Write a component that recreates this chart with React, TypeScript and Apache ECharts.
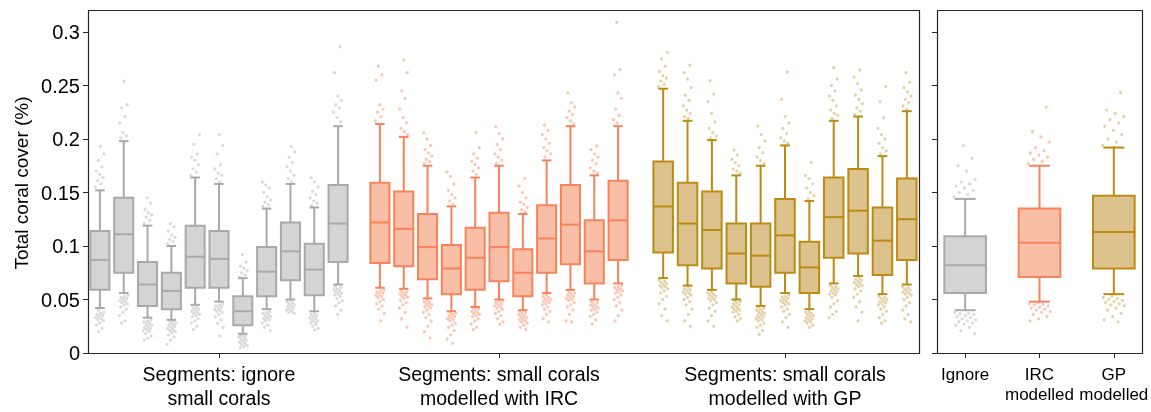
import React, { useEffect, useRef } from 'react';
import * as echarts from 'echarts';

// ---------- data ----------
const segmentIds = ['1', '2', '3', '4', '5', '6', '7', '8', '9', '10', '11'];
const groupLabels = [
  'Segments: ignore\nsmall corals',
  'Segments: small corals\nmodelled with IRC',
  'Segments: small corals\nmodelled with GP',
];
const overallLabels = ['Ignore', 'IRC\nmodelled', 'GP\nmodelled'];
const yTitle = 'Total coral cover (%)';

// [lower whisker, Q1, median, Q3, upper whisker]
const ignoreStats = [
  [0.042, 0.059, 0.087, 0.114, 0.152],
  [0.056, 0.075, 0.111, 0.145, 0.198],
  [0.033, 0.044, 0.064, 0.085, 0.119],
  [0.031, 0.041, 0.058, 0.075, 0.100],
  [0.045, 0.061, 0.090, 0.119, 0.164],
  [0.048, 0.061, 0.088, 0.114, 0.158],
  [0.018, 0.026, 0.039, 0.053, 0.070],
  [0.041, 0.053, 0.076, 0.099, 0.135],
  [0.050, 0.068, 0.095, 0.122, 0.158],
  [0.039, 0.054, 0.078, 0.102, 0.136],
  [0.064, 0.085, 0.121, 0.157, 0.212],
];
const ignoreHigh = [
  [0.155, 0.158, 0.161, 0.164, 0.167, 0.170, 0.174, 0.180, 0.186, 0.193],
  [0.201, 0.203, 0.206, 0.215, 0.221, 0.229, 0.232, 0.254],
  [0.121, 0.124, 0.127, 0.129, 0.131, 0.134, 0.140, 0.145],
  [0.102, 0.104, 0.106, 0.108, 0.110, 0.114, 0.118, 0.121],
  [0.166, 0.169, 0.172, 0.176, 0.180, 0.183, 0.186, 0.195, 0.204],
  [0.160, 0.163, 0.166, 0.168, 0.172, 0.176, 0.186, 0.194, 0.204],
  [0.071, 0.073, 0.075, 0.077, 0.079, 0.081, 0.085, 0.092],
  [0.137, 0.139, 0.141, 0.143, 0.146, 0.150, 0.154, 0.157, 0.160],
  [0.160, 0.163, 0.166, 0.170, 0.174, 0.178, 0.183, 0.188, 0.193],
  [0.138, 0.140, 0.142, 0.145, 0.148, 0.151, 0.155, 0.160, 0.164],
  [0.216, 0.220, 0.225, 0.229, 0.232, 0.236, 0.240, 0.262, 0.286],
];
const ignoreLow = [
  [0.040, 0.038, 0.037, 0.036, 0.035, 0.034, 0.033, 0.032, 0.031, 0.030, 0.028, 0.026, 0.023, 0.020],
  [0.054, 0.053, 0.052, 0.051, 0.050, 0.049, 0.048, 0.047, 0.046, 0.045, 0.043, 0.041, 0.038, 0.035, 0.030, 0.028],
  [0.031, 0.030, 0.029, 0.028, 0.027, 0.026, 0.025, 0.024, 0.023, 0.022, 0.021, 0.020, 0.018, 0.016, 0.014, 0.012],
  [0.030, 0.029, 0.028, 0.027, 0.026, 0.025, 0.024, 0.023, 0.022, 0.021, 0.020, 0.019, 0.017, 0.015, 0.012, 0.008],
  [0.043, 0.042, 0.041, 0.040, 0.039, 0.038, 0.037, 0.036, 0.035, 0.034, 0.032, 0.030, 0.028, 0.025, 0.022],
  [0.046, 0.045, 0.044, 0.043, 0.042, 0.041, 0.040, 0.039, 0.038, 0.036, 0.034, 0.031, 0.028, 0.024, 0.016],
  [0.017, 0.0165, 0.016, 0.015, 0.014, 0.013, 0.012, 0.011, 0.010, 0.009, 0.008, 0.007, 0.006, 0.005],
  [0.039, 0.038, 0.037, 0.036, 0.035, 0.034, 0.033, 0.032, 0.031, 0.030, 0.028, 0.026, 0.024, 0.021],
  [0.049, 0.048, 0.047, 0.046, 0.045, 0.044, 0.043, 0.042, 0.041, 0.040, 0.039, 0.038, 0.037],
  [0.037, 0.036, 0.035, 0.034, 0.033, 0.032, 0.031, 0.030, 0.029, 0.028, 0.027, 0.025, 0.023, 0.0215],
  [0.062, 0.061, 0.060, 0.059, 0.058, 0.057, 0.056, 0.055, 0.054, 0.053, 0.051, 0.049, 0.047, 0.044, 0.040, 0.036],
];

const ircStats = [
  [0.061, 0.084, 0.122, 0.159, 0.214],
  [0.060, 0.081, 0.116, 0.151, 0.202],
  [0.051, 0.069, 0.099, 0.130, 0.175],
  [0.039, 0.055, 0.079, 0.101, 0.137],
  [0.043, 0.059, 0.089, 0.117, 0.164],
  [0.050, 0.067, 0.099, 0.131, 0.175],
  [0.040, 0.053, 0.075, 0.097, 0.130],
  [0.056, 0.075, 0.107, 0.138, 0.180],
  [0.059, 0.083, 0.120, 0.157, 0.212],
  [0.050, 0.065, 0.095, 0.124, 0.166],
  [0.065, 0.087, 0.124, 0.161, 0.212],
];
const ircHigh = [
  [0.217, 0.221, 0.225, 0.228, 0.232, 0.255, 0.260, 0.268],
  [0.204, 0.207, 0.210, 0.215, 0.220, 0.228, 0.238, 0.245, 0.262, 0.274],
  [0.177, 0.179, 0.181, 0.184, 0.187, 0.190, 0.194, 0.200, 0.206],
  [0.139, 0.142, 0.145, 0.148, 0.152, 0.158, 0.165, 0.169],
  [0.167, 0.170, 0.173, 0.176, 0.179, 0.182, 0.186, 0.192, 0.206],
  [0.177, 0.180, 0.183, 0.186, 0.190, 0.195, 0.200, 0.205, 0.2115],
  [0.132, 0.134, 0.136, 0.139, 0.141, 0.145, 0.150, 0.156, 0.163],
  [0.183, 0.186, 0.189, 0.192, 0.196, 0.200, 0.204, 0.208, 0.213],
  [0.214, 0.217, 0.220, 0.223, 0.226, 0.230, 0.234, 0.243],
  [0.168, 0.170, 0.173, 0.177, 0.180, 0.183, 0.186, 0.190, 0.1935],
  [0.215, 0.218, 0.222, 0.228, 0.238, 0.243, 0.260, 0.265, 0.309],
];
const ircLow = [
  [0.059, 0.058, 0.057, 0.056, 0.055, 0.054, 0.053, 0.052, 0.050, 0.048, 0.046, 0.044, 0.041, 0.037, 0.030],
  [0.058, 0.057, 0.056, 0.055, 0.054, 0.053, 0.052, 0.051, 0.049, 0.047, 0.045, 0.042, 0.038, 0.032, 0.024],
  [0.049, 0.048, 0.047, 0.046, 0.045, 0.044, 0.043, 0.042, 0.040, 0.038, 0.036, 0.033, 0.030, 0.025, 0.020, 0.014],
  [0.038, 0.037, 0.036, 0.035, 0.034, 0.033, 0.032, 0.031, 0.030, 0.028, 0.026, 0.024, 0.021, 0.017, 0.013, 0.009],
  [0.042, 0.041, 0.040, 0.039, 0.038, 0.037, 0.036, 0.035, 0.034, 0.032, 0.030, 0.027, 0.024, 0.022],
  [0.049, 0.048, 0.047, 0.046, 0.045, 0.044, 0.043, 0.042, 0.041, 0.039, 0.037, 0.035, 0.032, 0.029, 0.027],
  [0.039, 0.038, 0.037, 0.036, 0.035, 0.034, 0.033, 0.032, 0.031, 0.030, 0.029, 0.028, 0.026, 0.024, 0.022],
  [0.054, 0.053, 0.052, 0.051, 0.050, 0.049, 0.048, 0.047, 0.046, 0.045, 0.043, 0.041, 0.039, 0.036, 0.032, 0.029],
  [0.057, 0.056, 0.055, 0.054, 0.053, 0.052, 0.051, 0.050, 0.049, 0.047, 0.045, 0.043, 0.040, 0.036, 0.030, 0.029],
  [0.048, 0.047, 0.046, 0.045, 0.044, 0.043, 0.042, 0.041, 0.040, 0.038, 0.036, 0.034, 0.031, 0.027],
  [0.063, 0.062, 0.061, 0.060, 0.059, 0.058, 0.057, 0.056, 0.054, 0.052, 0.050, 0.047, 0.044, 0.040, 0.035, 0.030],
];

const gpStats = [
  [0.070, 0.094, 0.137, 0.179, 0.247],
  [0.063, 0.082, 0.121, 0.159, 0.217],
  [0.059, 0.079, 0.115, 0.151, 0.199],
  [0.050, 0.065, 0.093, 0.121, 0.166],
  [0.044, 0.062, 0.091, 0.121, 0.175],
  [0.056, 0.075, 0.110, 0.144, 0.194],
  [0.041, 0.056, 0.080, 0.104, 0.142],
  [0.065, 0.089, 0.127, 0.164, 0.217],
  [0.072, 0.093, 0.133, 0.172, 0.221],
  [0.055, 0.073, 0.105, 0.136, 0.184],
  [0.064, 0.087, 0.125, 0.163, 0.226],
];
const gpHigh = [
  [0.249, 0.251, 0.254, 0.257, 0.259, 0.263, 0.268, 0.275, 0.281],
  [0.219, 0.221, 0.224, 0.227, 0.231, 0.236, 0.241, 0.248, 0.256, 0.262, 0.269],
  [0.201, 0.203, 0.206, 0.210, 0.216, 0.224, 0.235, 0.242, 0.2545],
  [0.168, 0.170, 0.172, 0.175, 0.178, 0.181, 0.185, 0.1897],
  [0.177, 0.180, 0.183, 0.187, 0.192, 0.198, 0.204, 0.212],
  [0.196, 0.198, 0.201, 0.205, 0.210, 0.215, 0.221, 0.237, 0.2626],
  [0.144, 0.147, 0.150, 0.154, 0.158, 0.163, 0.166, 0.1782],
  [0.219, 0.222, 0.224, 0.227, 0.231, 0.236, 0.240, 0.245, 0.250, 0.256, 0.2667],
  [0.223, 0.226, 0.229, 0.233, 0.237, 0.241, 0.246, 0.252, 0.258, 0.2645],
  [0.186, 0.189, 0.192, 0.196, 0.200, 0.204, 0.210, 0.220, 0.235, 0.249],
  [0.228, 0.231, 0.234, 0.237, 0.240, 0.244, 0.248, 0.253, 0.262],
];
const gpLow = [
  [0.068, 0.067, 0.066, 0.065, 0.064, 0.063, 0.062, 0.061, 0.060, 0.058, 0.056, 0.053, 0.050, 0.046, 0.041, 0.035, 0.030],
  [0.061, 0.060, 0.059, 0.058, 0.057, 0.056, 0.055, 0.054, 0.052, 0.050, 0.048, 0.045, 0.041, 0.036, 0.030, 0.025],
  [0.057, 0.056, 0.055, 0.054, 0.053, 0.052, 0.051, 0.050, 0.049, 0.047, 0.045, 0.042, 0.039, 0.035, 0.030, 0.025],
  [0.049, 0.048, 0.047, 0.046, 0.045, 0.044, 0.043, 0.042, 0.041, 0.040, 0.039, 0.038, 0.036, 0.034, 0.032, 0.030],
  [0.043, 0.042, 0.041, 0.040, 0.039, 0.038, 0.037, 0.036, 0.035, 0.034, 0.033, 0.032, 0.031, 0.030, 0.028, 0.026, 0.024, 0.021, 0.0175],
  [0.054, 0.053, 0.052, 0.051, 0.050, 0.049, 0.048, 0.047, 0.046, 0.045, 0.043, 0.041, 0.039, 0.036, 0.033, 0.029, 0.024],
  [0.039, 0.038, 0.037, 0.036, 0.035, 0.034, 0.033, 0.032, 0.031, 0.030, 0.029, 0.028, 0.026, 0.024],
  [0.063, 0.062, 0.061, 0.060, 0.059, 0.058, 0.057, 0.056, 0.055, 0.054, 0.052, 0.049, 0.046, 0.043, 0.039, 0.036, 0.033],
  [0.070, 0.069, 0.068, 0.067, 0.066, 0.065, 0.064, 0.063, 0.062, 0.060, 0.058, 0.055, 0.052, 0.048, 0.043, 0.038, 0.030],
  [0.053, 0.052, 0.051, 0.050, 0.049, 0.048, 0.047, 0.046, 0.045, 0.043, 0.041, 0.039, 0.036, 0.033, 0.030, 0.028],
  [0.062, 0.061, 0.060, 0.059, 0.058, 0.057, 0.056, 0.055, 0.054, 0.052, 0.050, 0.047, 0.044, 0.040, 0.036, 0.032, 0.029],
];

const overallStats = [
  [0.040, 0.056, 0.082, 0.109, 0.144],
  [0.048, 0.071, 0.103, 0.135, 0.175],
  [0.055, 0.079, 0.113, 0.147, 0.192],
];
const overallHigh = [
  [0.146, 0.148, 0.150, 0.152, 0.154, 0.156, 0.158, 0.160, 0.162, 0.170, 0.175, 0.182, 0.1938],
  [0.177, 0.179, 0.181, 0.183, 0.185, 0.187, 0.189, 0.192, 0.197, 0.202, 0.207, 0.2299],
  [0.194, 0.197, 0.200, 0.204, 0.208, 0.212, 0.215, 0.218, 0.221, 0.224, 0.227, 0.2433],
];
const overallLow = [
  [0.038, 0.037, 0.0365, 0.036, 0.035, 0.034, 0.033, 0.032, 0.031, 0.030, 0.029, 0.028, 0.027, 0.026, 0.024, 0.021, 0.018],
  [0.047, 0.046, 0.0455, 0.045, 0.044, 0.043, 0.042, 0.041, 0.040, 0.039, 0.038, 0.036, 0.034, 0.032, 0.030],
  [0.053, 0.052, 0.051, 0.050, 0.049, 0.048, 0.047, 0.046, 0.045, 0.044, 0.042, 0.040, 0.037, 0.034, 0.031, 0.029],
];

// ---------- styles ----------
const FONT = '"Liberation Sans", Arial, sans-serif';
const GREY = { stroke: '#a9a9a9', fill: '#d4d4d4', point: '#c2c2c2' };
const ORANGE = { stroke: '#f8835b', fill: '#f9bea6', point: '#f6a283' };
const GOLD = { stroke: '#bd8a12', fill: '#dcc38d', point: '#d2b473' };
const FRAME = '#262626';

function boxData(stats: number[][]) {
  return stats.map((s, i) => [i, ...s]);
}
function pointData(high: number[][], low: number[][]) {
  const out: number[][] = [];
  high.forEach((arr, i) => arr.forEach((v) => out.push([i, v])));
  low.forEach((arr, i) => arr.forEach((v) => out.push([i, v])));
  return out;
}

function boxSeries(gridIdx: number, stats: number[][], col: any, widthFrac: number) {
  return {
    type: 'custom',
    xAxisIndex: gridIdx,
    yAxisIndex: gridIdx,
    z: 3,
    clip: false,
    encode: { x: 0, y: [1, 2, 3, 4, 5] },
    data: boxData(stats),
    renderItem: (params: any, api: any) => {
      const x = api.value(0);
      const pLw = api.coord([x, api.value(1)]);
      const pQ1 = api.coord([x, api.value(2)]);
      const pMed = api.coord([x, api.value(3)]);
      const pQ3 = api.coord([x, api.value(4)]);
      const pUw = api.coord([x, api.value(5)]);
      const band = api.size([1, 0])[0];
      const w = band * widthFrac;
      const cx = pMed[0];
      const cap = w * 0.5;
      const ls = { stroke: col.stroke, lineWidth: 2 };
      return {
        type: 'group',
        children: [
          { type: 'line', shape: { x1: cx, y1: pUw[1], x2: cx, y2: pQ3[1] }, style: ls },
          { type: 'line', shape: { x1: cx, y1: pQ1[1], x2: cx, y2: pLw[1] }, style: ls },
          { type: 'line', shape: { x1: cx - cap / 2, y1: pUw[1], x2: cx + cap / 2, y2: pUw[1] }, style: ls },
          { type: 'line', shape: { x1: cx - cap / 2, y1: pLw[1], x2: cx + cap / 2, y2: pLw[1] }, style: ls },
          {
            type: 'rect',
            shape: { x: cx - w / 2, y: pQ3[1], width: w, height: pQ1[1] - pQ3[1] },
            style: { fill: col.fill, stroke: col.stroke, lineWidth: 2 },
          },
          { type: 'line', shape: { x1: cx - w / 2, y1: pMed[1], x2: cx + w / 2, y2: pMed[1] }, style: ls },
        ],
      };
    },
  };
}

function pointSeries(gridIdx: number, high: number[][], low: number[][], col: any, spread: number) {
  return {
    type: 'custom',
    xAxisIndex: gridIdx,
    yAxisIndex: gridIdx,
    z: 2,
    clip: false,
    encode: { x: 0, y: 1 },
    data: pointData(high, low),
    renderItem: (params: any, api: any) => {
      const p = api.coord([api.value(0), api.value(1)]);
      const band = api.size([1, 0])[0];
      const k = params.dataIndex;
      const j = (((k * 0.6180339887) % 1) - 0.5) * band * spread;
      return {
        type: 'circle',
        shape: { cx: p[0] + j, cy: p[1], r: 1.6 },
        style: { fill: col.point, opacity: 0.6 },
      };
    },
  };
}

const grids = [
  { left: 88, width: 262 },
  { left: 368, width: 262 },
  { left: 651, width: 268 },
  { left: 928, width: 225 },
];

export default function App() {
  const ref = useRef<HTMLDivElement>(null);
  useEffect(() => {
    if (!ref.current) return;
    const chart = echarts.init(ref.current, undefined, { renderer: 'svg' });
    const yBase = {
      type: 'value',
      min: 0,
      max: 0.3,
      interval: 0.05,
      splitLine: { show: false },
      axisLine: { show: false },
    };
    const leftX = [0, 1, 2].map((g) => ({
      type: 'category',
      gridIndex: g,
      data: segmentIds,
      axisLine: { show: false },
      axisTick: {
        show: true,
        alignWithLabel: true,
        interval: (i: number) => i === 5,
        length: 5,
        lineStyle: { color: FRAME, width: 1 },
      },
      axisLabel: {
        interval: (i: number) => i === 5,
        formatter: () => groupLabels[g],
        fontSize: 19.5,
        lineHeight: 24,
        color: '#000',
        fontFamily: FONT,
        margin: 9,
      },
      splitLine: { show: false },
    }));
    const overallCols = [GREY, ORANGE, GOLD];
    const series: any[] = [
      pointSeries(0, ignoreHigh, ignoreLow, GREY, 0.38),
      boxSeries(0, ignoreStats, GREY, 0.8),
      pointSeries(1, ircHigh, ircLow, ORANGE, 0.38),
      boxSeries(1, ircStats, ORANGE, 0.8),
      pointSeries(2, gpHigh, gpLow, GOLD, 0.38),
      boxSeries(2, gpStats, GOLD, 0.8),
    ];
    // overall panel: one colour per box
    overallCols.forEach((col, i) => {
      series.push(
        pointSeries(
          3,
          overallHigh.map((a, k) => (k === i ? a : [])),
          overallLow.map((a, k) => (k === i ? a : [])),
          col,
          0.3
        )
      );
      series.push(boxSeries(3, [overallStats[i]].map((s) => s), col, 0.56));
      // shift the single box to its own category
      series[series.length - 1].data = [[i, ...overallStats[i]]];
    });
    const option: any = {
      animation: false,
      grid: grids.map((g) => ({ left: g.left, width: g.width, top: 32, bottom: 59, containLabel: false })),
      xAxis: [
        ...leftX,
        {
          type: 'category',
          gridIndex: 3,
          data: overallLabels,
          axisLine: { show: false },
          axisTick: { show: true, alignWithLabel: true, interval: 0, length: 5, lineStyle: { color: FRAME, width: 1 } },
          axisLabel: { interval: 0, fontSize: 17, lineHeight: 20, color: '#000', fontFamily: FONT, margin: 11 },
          splitLine: { show: false },
        },
      ],
      yAxis: [
        {
          ...yBase,
          gridIndex: 0,
          axisTick: { show: true, length: 5, lineStyle: { color: FRAME, width: 1 } },
          axisLabel: { fontSize: 20, color: '#000', fontFamily: FONT, margin: 8 },
        },
        { ...yBase, gridIndex: 1, show: false },
        { ...yBase, gridIndex: 2, show: false },
        {
          ...yBase,
          gridIndex: 3,
          offset: -9,
          axisTick: { show: true, length: 5, lineStyle: { color: FRAME, width: 1 } },
          axisLabel: { show: false },
        },
      ],
      series,
      graphic: [
        {
          type: 'rect',
          z: 100,
          shape: { x: 88.5, y: 10.5, width: 831, height: 343 },
          style: { fill: 'none', stroke: FRAME, lineWidth: 1.2 },
        },
        {
          type: 'rect',
          z: 100,
          shape: { x: 937.5, y: 10.5, width: 205, height: 343 },
          style: { fill: 'none', stroke: FRAME, lineWidth: 1.2 },
        },
        {
          type: 'text',
          x: 21,
          y: 183,
          rotation: Math.PI / 2,
          style: {
            text: yTitle,
            fontSize: 19,
            fontFamily: FONT,
            fill: '#000',
            align: 'center',
            verticalAlign: 'middle',
          },
        },
      ],
    };
    chart.setOption(option);
    return () => chart.dispose();
  }, []);
  return <div ref={ref} style={{ position: 'fixed', left: 0, top: 0, width: 1151, height: 412 }} />;
}
